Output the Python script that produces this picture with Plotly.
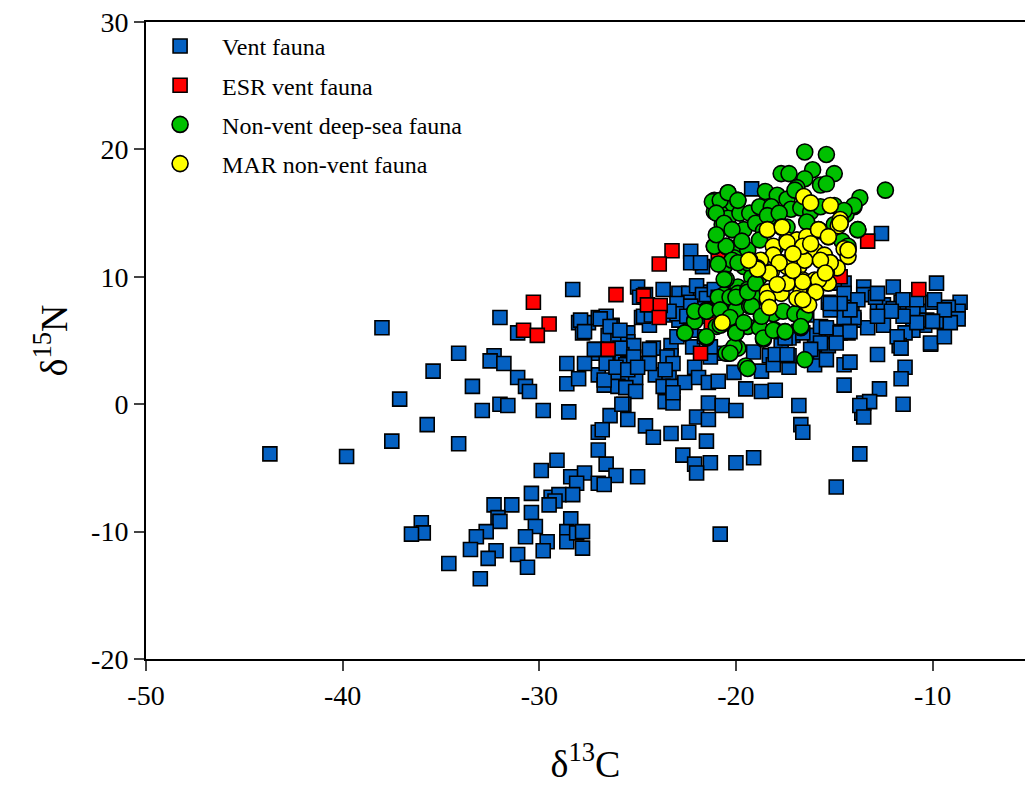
import plotly.graph_objects as go

# ---------------- data ----------------
vent_x = [-43.7,-39.8,-38.0,-37.1,-37.5,-35.4,-35.7,-34.1,-34.1,-33.4,-32.0,-32.3,-32.5,-31.8,-31.1,-30.7,-30.5,-28.6,-28.0,-32.9,
          -32.0,-31.6,-29.8,-28.5,-31.1,-28.0,-27.5,-27.8,-27.0,-27.0,-27.0,-27.0,-27.0,-29.1,-29.9,-28.4,-27.7,-28.1,-27.0,-30.4,
          -29.4,-29.0,-28.3,-29.2,-29.5,-32.3,-31.4,-30.4,-32.1,-32.0,-30.2,-28.4,-32.7,-33.2,-30.7,-29.6,-29.8,-28.6,-28.6,-28.1,
          -27.8,-27.8,-36.0,-35.9,-36.5,-33.5,-32.2,-32.6,-31.1,-30.6,-34.6,-33.0,-28.3,-20.8,
          -22.3,-21.7,-22.3,-25.0,-23.7,-22.9,-22.4,-21.8,-24.8,-24.4,-23.2,-22.5,-26.3,-25.5,-26.5,-26.0,-25.5,-25.2,-26.2,-25.8,
          -25.5,-25.0,-24.2,-23.3,-23.3,-21.1,-26.0,-25.5,-25.1,-26.7,-26.0,-25.6,-25.1,-24.1,-23.4,-23.7,-23.2,-22.6,-22.1,-21.9,
          -21.4,-20.9,-23.6,-23.2,-25.7,-26.4,-25.5,-24.6,-24.2,-23.3,-22.4,-21.5,-21.4,-20.7,-22.0,-21.4,-20.0,-22.7,-22.1,-21.3,
          -22.0,-20.0,-26.6,-26.1,-26.7,-25.0,
          -14.5,-13.5,-13.5,-14.1,-14.4,-14.0,-12.8,-12.5,-12.0,-11.6,-11.0,-10.7,-10.0,-9.8,-8.6,-8.7,-9.3,-9.8,-10.4,-11.0,
          -11.4,-11.7,-10.1,-12.8,-11.4,-11.6,-12.7,-14.5,-14.5,-13.5,-13.6,-11.5,-13.7,-14.9,-16.8,-16.7,-16.6,-19.1,-18.7,-18.0,
          -19.5,-20.1,-18.7,-23.2,-25.6,-25.8,-26.7,-26.8,-26.6,-26.3,-25.9,-24.7,-24.9,-22.4,-21.8,-22.9,-22.9,-21.9,-21.3,-19.1,
          -18.3,-18.1,-17.3,-17.3,-17.7,-16.1,-16.0,-15.7,-15.4,-15.1,-15.4,-16.0,-15.7,-16.8,-17.1,-17.3,-16.4,
          -12.6,-12.9,-12.0,-11.0,-9.2,-8.7,-9.1,-10.3,-14.3,-13.3,-12.5,-14.0,-14.5,-15.3,-15.2,-15.4,-15.3,-13.2,-13.7,-13.5,
          -18.0,-17.4,-16.6,-17.5,
          -19.2,-24.6,-23.0,-23.0,-23.4,-24.3,-22.0,-21.7,-21.5,-21.1,-20.9,-21.6,-22.3,-22.5,-27.9,-26.9,-27.7,-26.4,-25.9,-27.1,
          -25.2,-24.4,-24.4,-23.5,-23.2,-23.6,-23.0,-22.2,-21.3,-21.6,-22.3,-15.0,-14.5,-13.8,-12.8,-11.5,-10.8,-9.9,-9.4,-10.0,
          -10.8,-11.5,-12.1,-12.8,-14.2,-14.7,-15.2,-14.7,-14.2,-14.9,-15.7,-16.2,-15.4,-14.2,-10.1,-9.4,-11.8,-11.6,-28.6,-27.7,
          -27.2,-26.6,-26.1,-25.5,-25.0]
vent_y = [-3.9,-4.1,6.0,0.4,-2.9,2.6,-1.6,4.0,-3.1,1.4,6.8,3.8,3.4,3.2,2.1,1.4,1.0,1.6,2.0,-0.5,
          0.0,-0.1,-0.5,-0.6,5.6,6.4,6.4,5.6,6.8,4.0,2.3,-2.2,-3.6,-4.4,-5.2,-5.7,-5.4,-6.2,-6.2,-7.0,
          -7.3,-7.1,-7.1,-7.6,-7.9,-7.9,-7.9,-8.5,-8.9,-9.2,-9.6,-9.0,-10.0,-10.4,-10.4,-10.8,-11.5,-10.0,-10.8,-10.1,
          -10.0,-11.3,-9.3,-10.1,-10.2,-11.4,-11.5,-12.1,-11.8,-12.8,-12.5,-13.7,9.0,-10.2,
          12.0,10.8,11.1,9.2,9.0,8.7,8.7,8.8,6.8,6.2,7.0,7.1,6.2,5.6,5.4,5.2,4.9,4.6,3.4,3.9,
          3.2,3.2,4.4,4.6,3.8,4.0,2.0,2.1,2.1,1.5,1.4,1.3,1.0,2.3,2.1,1.4,1.4,1.7,2.9,2.1,
          1.7,1.8,0.2,0.1,0.0,-0.9,-1.2,-1.7,-2.6,-2.3,-2.2,-2.9,0.1,-0.1,-1.0,-1.2,-0.5,-4.0,-4.7,-4.6,
          -5.4,-4.6,-4.7,-5.6,-6.3,-5.7,
          9.5,9.2,8.6,7.4,8.2,6.6,7.3,7.8,9.2,8.0,8.2,7.3,8.0,9.5,8.0,7.3,6.9,6.5,6.2,5.8,
          5.6,4.6,4.7,3.9,2.9,2.0,1.2,3.1,1.5,0.1,-0.7,0.0,-3.9,-6.5,-0.1,-1.6,-2.2,-4.2,1.0,1.1,
          1.2,2.5,2.6,0.9,3.1,0.0,1.9,-2.0,6.9,6.1,4.4,6.9,8.4,8.0,11.1,7.4,6.6,6.9,3.7,4.1,
          3.8,3.1,2.9,3.8,4.6,3.9,3.1,4.1,5.8,5.7,4.7,5.4,6.1,5.7,5.4,5.2,7.0,
          13.4,8.4,7.5,7.4,7.6,6.7,6.4,6.6,5.6,6.0,6.2,6.8,6.8,8.0,7.4,6.0,4.6,0.2,-0.1,-1.0,
          3.9,3.9,5.6,5.2,
          16.9,8.6,7.9,7.1,7.3,7.0,9.3,8.6,8.3,9.0,8.4,7.5,7.7,6.9,6.6,6.7,5.7,6.1,5.8,4.3,
          3.7,4.3,3.2,3.7,3.2,2.7,5.3,4.5,4.5,5.3,5.8,9.5,8.7,8.2,8.7,8.2,8.2,8.2,7.4,6.5,
          6.4,6.9,7.3,6.9,7.4,7.9,7.9,5.6,5.7,4.8,4.8,4.3,3.5,3.3,4.8,5.3,5.3,4.4,3.2,3.2,
          4.3,3.2,2.9,2.7,2.9]

esr_x = [-30.3,-29.5,-30.8,-30.1,-26.1,-23.25,-23.9,-24.7,-24.5,-23.85,-23.9,-26.5,-21.8,-21.25,-20.0,-20.9,-13.3,-10.7,-14.7]
esr_y = [8.0,6.3,5.8,5.4,8.6,12.05,11.0,8.5,7.8,7.75,6.8,4.3,4.0,6.3,12.3,11.7,12.8,9.0,10.0]

deep_x = [-16.5,-15.4,-17.7,-17.3,-16.1,-15.0,-16.5,-15.7,-16.9,-15.4,-21.1,-20.4,-20.4,-19.9,-21.1,-20.8,-20.4,-19.8,-19.3,-18.5,
          -17.9,-17.4,-18.8,-18.2,-17.2,-16.7,-16.2,-15.7,-15.0,-14.0,-13.7,-12.4,-20.7,-20.2,-19.6,-19.0,-18.6,-17.9,-17.4,-16.4,
          -15.7,-15.0,-14.4,-13.8,-14.6,-14.3,-21.1,-20.5,-20.0,-19.4,-18.8,-20.6,-20.1,-19.6,-19.2,-20.5,-19.9,-20.6,-20.0,-19.4,
          -18.9,-20.5,-19.9,-19.2,-18.7,-18.1,-17.6,-17.0,-16.5,-21.5,-20.7,-22.1,-21.0,-22.6,-21.5,-20.0,-19.4,-18.8,-18.0,-17.5,
          -16.7,-18.6,-20.0,-20.4,-19.9,-19.5,-16.5,
          -21.2,-20.8,-20.4,-19.9,-21.0,-20.6,-20.2,-21.1,-20.5,-20.6,-20.2,-20.5,-20.9,-20.3,-19.9,-21.5,-22.1,-22.6,-21.5,-20.0,
          -20.1,-20.5,-19.4,-20.7,-20.0,-19.4,-19.3,-14.0,-13.8,-14.5,-14.7,-14.3,-16.7,
          -22.1,-21.5,-21.5,-20.8,-20.8,-20.0,-20.3,-19.2,-18.7,-18.6,-18.1,-17.5,-18.8,-19.4,-20.6,-20.0,-19.4,-18.8,-19.9,
          -21.0,-20.9,-19.7,-18.4,-17.8,-17.0,-18.0,-19.0,-20.3,-19.6]
deep_y = [19.8,19.6,18.1,18.1,18.4,18.1,17.7,17.2,17.0,17.3,16.0,16.6,15.7,16.0,15.1,15.0,14.6,15.0,15.0,16.7,
          16.4,16.1,15.5,15.5,15.3,15.4,15.1,15.5,15.6,15.5,16.2,16.8,14.1,13.7,13.7,14.2,13.6,14.5,13.9,14.3,
          13.6,14.1,14.9,13.7,12.8,12.1,12.4,12.4,12.2,12.1,12.9,10.8,11.5,10.8,10.0,9.8,9.2,8.6,8.4,8.8,
          8.4,7.7,7.7,7.7,6.9,7.1,7.3,7.1,7.0,7.4,7.4,6.6,6.1,5.6,5.2,5.6,6.1,6.0,5.8,5.7,
          6.0,5.1,4.5,4.0,4.4,3.0,3.5,
          15.9,16.0,16.6,16.0,15.0,14.2,13.7,12.4,12.4,10.8,11.3,9.8,8.4,8.4,8.7,7.3,6.5,5.6,5.3,5.6,
          4.5,4.0,2.8,6.3,7.4,9.0,7.7,15.6,13.7,15.2,14.2,12.4,6.1,
          7.3,7.3,5.3,7.4,6.2,5.6,4.0,7.7,6.9,5.2,5.8,5.7,10.0,11.1,9.8,8.4,8.8,10.0,11.1,
          13.3,11.0,12.8,14.8,15.0,16.8,12.3,9.5,6.8,6.4]

mar_x = [-16.55,-16.2,-15.2,-14.7,-14.8,-18.4,-17.7,-17.4,-18.1,-16.9,-16.4,-15.8,-15.3,-14.5,-14.3,-18.1,-17.65,-18.75,-19.3,-18.9,
         -18.2,-17.4,-16.8,-16.5,-15.95,-15.5,-15.2,-14.85,-15.4,-16.6,-16.0,-15.3,-17.9,-18.4,-18.4,-17.7,-16.7,-16.0,-16.4,-16.9,
         -20.7,
         -18.4,-17.65,-15.8,-15.3,-14.7,-14.3,-15.2,-16.5,-17.8,-18.3,-18.9,-19.35,-17.4,-16.6,-16.2,-17.4,-17.9,-16.6,-15.8,-15.95,
         -16.3,-16.6,-18.4,-18.3,-17.1,-17.1,-15.7,-15.45]
mar_y = [16.3,15.8,15.6,14.5,14.0,13.7,13.9,12.9,12.4,12.9,13.15,13.7,13.15,12.2,11.6,11.7,11.1,11.3,11.3,10.7,
         10.4,10.8,10.8,11.45,12.0,11.7,11.1,10.7,10.3,9.75,9.75,9.5,9.4,8.8,8.2,8.7,8.8,8.8,7.9,8.3,
         6.4,
         13.7,13.9,13.7,13.15,14.2,12.1,11.1,11.3,11.1,10.3,10.6,11.3,12.7,12.4,12.6,9.5,9.4,9.6,9.75,8.8,
         7.8,8.2,8.3,7.6,11.8,10.5,11.3,10.3]

x_ticks = [-50, -40, -30, -20, -10]
x_tick_text = ["-50", "-40", "-30", "-20", "-10"]
y_ticks = [-20, -10, 0, 10, 20, 30]
y_tick_text = ["-20", "-10", "0", "10", "20", "30"]

FONT = "Liberation Serif, Times New Roman, serif"

fig = go.Figure()

series = [
    ("Vent fauna", vent_x, vent_y, "square", "#0561C2", 14),
    ("ESR vent fauna", esr_x, esr_y, "square", "#FF0000", 14),
    ("Non-vent deep-sea fauna", deep_x, deep_y, "circle", "#00C000", 16),
    ("MAR non-vent fauna", mar_x, mar_y, "circle", "#FFFF00", 16),
]
for name, xs, ys, sym, col, sz in series:
    fig.add_trace(go.Scatter(
        x=xs, y=ys, mode="markers", name=name, legendgroup=name,
        marker=dict(symbol=sym, color=col, size=sz, line=dict(color="black", width=1.6)),
    ))

fig.update_layout(
    width=1025, height=785,
    margin=dict(l=146, r=0, t=22, b=126),
    paper_bgcolor="white", plot_bgcolor="white",
    font=dict(family=FONT, color="black", size=28),
    showlegend=True,
    legend=dict(x=-0.009, y=0.997, xanchor="left", yanchor="top",
                font=dict(family=FONT, size=24, color="black"),
                bgcolor="rgba(0,0,0,0)", tracegroupgap=5, itemwidth=74,
                traceorder="grouped"),
    xaxis=dict(range=[-50, -5.3], tickvals=x_ticks, ticktext=x_tick_text, ticks="outside", ticklen=10, tickwidth=1.5,
               showline=True, linecolor="black", linewidth=2, mirror=True, showgrid=False, zeroline=False,
               tickfont=dict(family=FONT, size=28),
               title=dict(text="δ<sup>13</sup>C", font=dict(family=FONT, size=38), standoff=44)),
    yaxis=dict(range=[-20, 30], tickvals=y_ticks, ticktext=y_tick_text, ticks="outside", ticklen=10, tickwidth=1.5,
               showline=True, linecolor="black", linewidth=2, showgrid=False, zeroline=False,
               tickfont=dict(family=FONT, size=28),
               title=dict(text="δ<sup>15</sup>N", font=dict(family=FONT, size=38), standoff=12)),
)

fig.write_html("out.html")
